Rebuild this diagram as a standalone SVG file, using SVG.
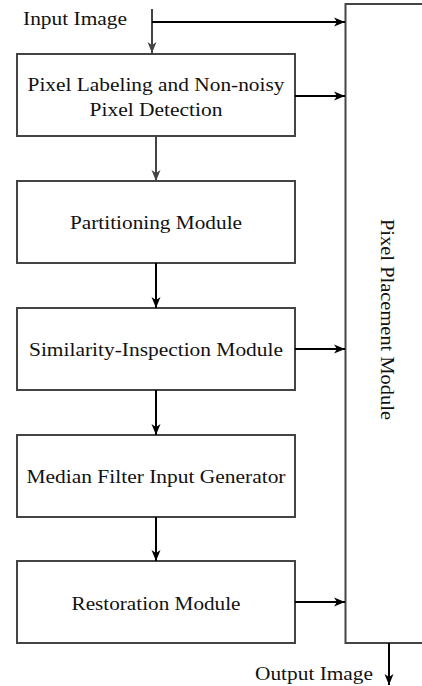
<svg xmlns="http://www.w3.org/2000/svg" width="422" height="686" viewBox="0 0 422 686">
<style>
.box{fill:#fff;stroke:#444;stroke-width:2}
.t{font-family:"Liberation Serif","Times New Roman",Times,serif;font-size:19.5px;fill:#111}
.c{fill:none;stroke:#000;stroke-width:2}
.g{fill:none;stroke:#444;stroke-width:2}
</style>
<defs>
<marker id="ab" markerWidth="12" markerHeight="10" refX="11" refY="5" orient="auto" markerUnits="userSpaceOnUse">
<path d="M0,0.5 L11,5 L0,9.5 L3,5 Z" fill="#000"/>
</marker>
<marker id="ag" markerWidth="12" markerHeight="10" refX="11" refY="5" orient="auto" markerUnits="userSpaceOnUse">
<path d="M0,0.5 L11,5 L0,9.5 L3,5 Z" fill="#444"/>
</marker>
</defs>
<g id="placement">
<rect class="box" x="345.5" y="4" width="100" height="639"/>
<text class="t" transform="translate(381,319.5) rotate(90)" text-anchor="middle" textLength="201" lengthAdjust="spacingAndGlyphs">Pixel Placement Module</text>
</g>
<g id="labeling">
<rect class="box" x="17" y="54" width="278" height="82"/>
<text class="t" x="156" y="91" text-anchor="middle" textLength="257" lengthAdjust="spacingAndGlyphs">Pixel Labeling and Non-noisy</text>
<text class="t" x="156" y="116" text-anchor="middle" textLength="133" lengthAdjust="spacingAndGlyphs">Pixel Detection</text>
</g>
<g id="partitioning">
<rect class="box" x="17" y="181" width="278" height="82"/>
<text class="t" x="156" y="229" text-anchor="middle" textLength="172" lengthAdjust="spacingAndGlyphs">Partitioning Module</text>
</g>
<g id="similarity">
<rect class="box" x="17" y="308" width="278" height="82"/>
<text class="t" x="156" y="356" text-anchor="middle" textLength="254" lengthAdjust="spacingAndGlyphs">Similarity-Inspection Module</text>
</g>
<g id="median">
<rect class="box" x="17" y="435" width="278" height="82"/>
<text class="t" x="156" y="483" text-anchor="middle" textLength="259" lengthAdjust="spacingAndGlyphs">Median Filter Input Generator</text>
</g>
<g id="restoration">
<rect class="box" x="17" y="561" width="278" height="82"/>
<text class="t" x="156" y="610" text-anchor="middle" textLength="169" lengthAdjust="spacingAndGlyphs">Restoration Module</text>
</g>
<g id="input-label">
<text class="t" x="23" y="25" textLength="104" lengthAdjust="spacingAndGlyphs">Input Image</text>
</g>
<g id="output-label">
<text class="t" x="255" y="680" textLength="118" lengthAdjust="spacingAndGlyphs">Output Image</text>
</g>
<g id="connectors">
<path class="g" d="M152,9 V53" marker-end="url(#ag)"/>
<path class="c" d="M152,22 H345" marker-end="url(#ab)"/>
<path class="c" d="M295,96 H345" marker-end="url(#ab)"/>
<path class="g" d="M156,136 V181" marker-end="url(#ag)"/>
<path class="c" d="M156,263 V308" marker-end="url(#ab)"/>
<path class="c" d="M295,349 H345" marker-end="url(#ab)"/>
<path class="c" d="M156,390 V435" marker-end="url(#ab)"/>
<path class="c" d="M156,517 V561" marker-end="url(#ab)"/>
<path class="c" d="M295,602 H345" marker-end="url(#ab)"/>
<path class="c" d="M389,643 V685" marker-end="url(#ab)"/>
</g>
</svg>
